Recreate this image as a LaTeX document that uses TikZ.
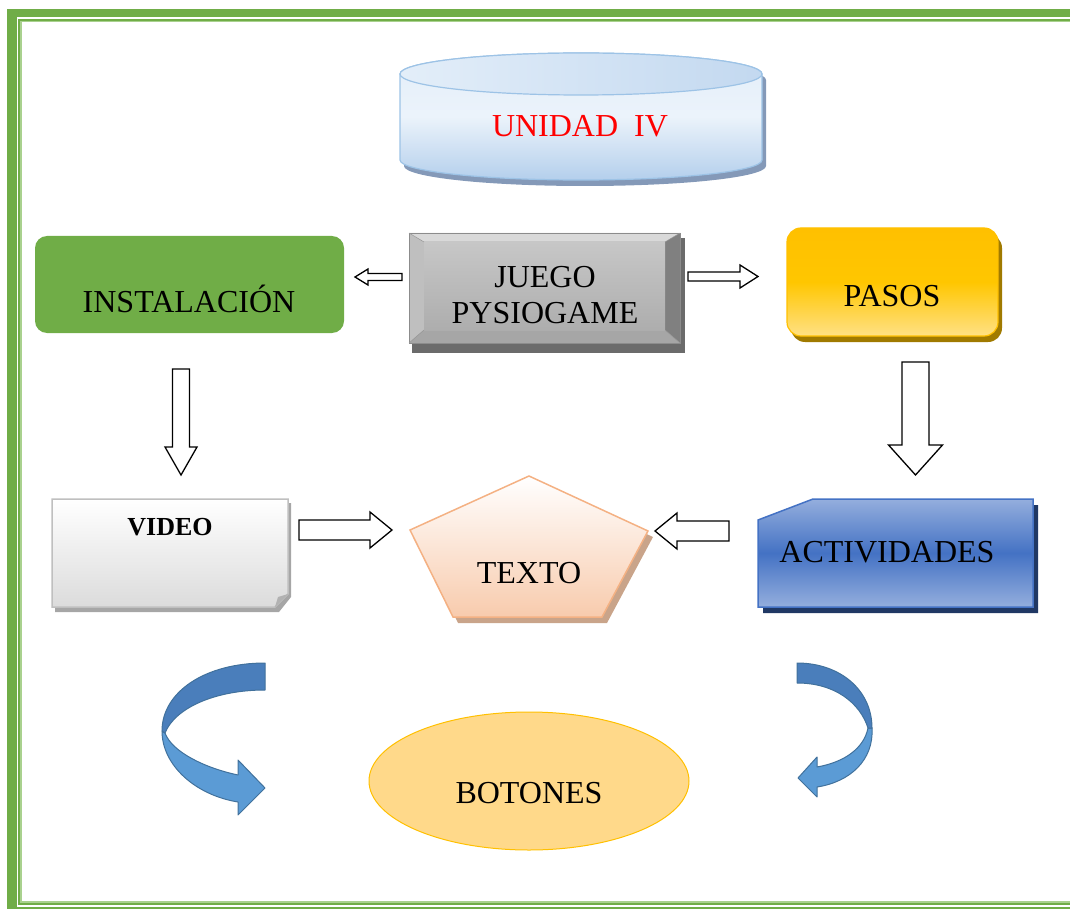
\documentclass[tikz,border=0pt]{standalone}
\usepackage{fontspec}
\setmainfont{Liberation Serif}
\usetikzlibrary{calc}
\definecolor{gr}{HTML}{70AD47}
\definecolor{grl}{HTML}{A9D18E}
\definecolor{cylA}{HTML}{E3EEF9}
\definecolor{cylB}{HTML}{B4CFEC}
\definecolor{cylE}{HTML}{9DC3E6}
\definecolor{cylS}{HTML}{8499B8}
\definecolor{gold}{HTML}{FFC000}
\definecolor{goldL}{HTML}{FFD966}
\definecolor{goldS}{HTML}{A07A00}
\definecolor{blu}{HTML}{4472C4}
\definecolor{bluL}{HTML}{94AEDD}
\definecolor{navy}{HTML}{203864}
\definecolor{peach}{HTML}{F8CBAD}
\definecolor{peachE}{HTML}{F4B183}
\definecolor{peachS}{HTML}{C9A48A}
\definecolor{bot}{HTML}{FFD98A}
\definecolor{rdark}{HTML}{4A7EBB}
\definecolor{rlight}{HTML}{5B9BD5}
\definecolor{redge}{HTML}{41719C}
\begin{document}
\begin{tikzpicture}[x=1pt,y=-1pt,
  txt/.style={font=\fontsize{32}{36}\selectfont, align=center, inner sep=0pt, text=black},
  barr/.style={draw=black, fill=white, line width=1.3pt, line join=miter},
  ribbon/.style={draw=redge, line width=1pt, line join=round}]
\useasboundingbox (0,0) rectangle (1070,909);

% ---- border ----
\fill[gr] (7,9) rectangle (1070,17);
\fill[gr] (7,9) rectangle (17,909);
\fill[gr] (7,906.5) rectangle (1070,909);
\fill[grl] (18,19) rectangle (1070,22.5);
\fill[grl] (18,19) rectangle (21.5,904.5);
\fill[grl] (18,901) rectangle (1070,904.5);
\fill[gr] (18,19) rectangle (1070,21);
\fill[gr] (18,19) rectangle (20,904.5);
\fill[gr] (18,902.5) rectangle (1070,904.5);

% ---- cylinder UNIDAD IV ----
\fill[cylS] (404,80) -- (404,166) arc[start angle=180, end angle=0, x radius=181, y radius=20] -- (766,80) arc[start angle=0, end angle=-180, x radius=181, y radius=21] -- cycle;
\path[draw=cylE, line width=1.2pt, top color=cylA, bottom color=cylB, middle color=cylA!70!white]
  (400,74) -- (400,160) arc[start angle=180, end angle=0, x radius=181, y radius=20] -- (762,74) arc[start angle=0, end angle=-180, x radius=181, y radius=21] -- cycle;
\path[draw=cylE, line width=1.2pt, left color=cylA, right color=cylB!80!white]
  (581,74) ellipse[x radius=181, y radius=21];
\node[txt, text=red] (unidad) at (580,126) {UNIDAD\ \ IV};

% ---- JUEGO PYSIOGAME bevel ----
\fill[black!58] (412,238) rectangle (685,353);
\fill[black!15] (409,233) -- (680,233) -- (665,242) -- (424,242) -- cycle;
\fill[black!25] (409,233) -- (424,242) -- (424,330) -- (409,343) -- cycle;
\fill[black!50] (680,233) -- (680,343) -- (665,330) -- (665,242) -- cycle;
\fill[black!35] (409,343) -- (680,343) -- (665,330) -- (424,330) -- cycle;
\path[top color=black!22, bottom color=black!32] (424,242) rectangle (665,330);
\draw[black!45, line width=0.8pt] (409,233) rectangle (680,343);
\draw[black!40, line width=0.5pt] (409,233) -- (424,242) (680,233) -- (665,242) (680,343) -- (665,330) (409,343) -- (424,330);
\node[txt] (juego) at (545,295) {JUEGO\\PYSIOGAME};

% ---- INSTALACION ----
\fill[gr, rounded corners=12] (35,236) rectangle (344,333);
\node[txt] (inst) at (189,299) {INSTALACIÓN};

% ---- PASOS ----
\fill[goldS, rounded corners=14] (791,234) rectangle (1002,342);
\path[draw=gold, line width=1.2pt, rounded corners=14, top color=gold, bottom color=goldL!80!white, middle color=gold!90!yellow]
  (787,228) rectangle (998,336);
\node[txt] (pasos) at (892,296) {PASOS};

% ---- VIDEO ----
\fill[black!35] (55,503) -- (291,503) -- (291,597) -- (279,612) -- (55,612) -- cycle;
\path[draw=black!25, line width=1.5pt, top color=white, bottom color=black!14]
  (52,499) -- (288,499) -- (288,594) -- (275,607) -- (52,607) -- cycle;
\fill[black!30] (288,594) -- (278,597) -- (275,607) -- cycle;
\node[font=\bfseries\fontsize{26}{30}\selectfont, inner sep=0pt] (video) at (170,527) {VIDEO};

% ---- ACTIVIDADES ----
\fill[navy] (763,526) -- (818,505) -- (1038,505) -- (1038,613) -- (763,613) -- cycle;
\path[draw=blu, line width=1.5pt, top color=bluL, bottom color=bluL, middle color=blu]
  (758,520) -- (813,499) -- (1033,499) -- (1033,607) -- (758,607) -- cycle;
\node[txt] (activ) at (887,552) {ACTIVIDADES};

% ---- TEXTO pentagon ----
\fill[peachS] (534,482) -- (653,537) -- (607,623) -- (458,623) -- (415,536) -- cycle;
\path[draw=peachE, line width=1.5pt, top color=white, bottom color=peach]
  (529,476) -- (648,531) -- (602,617) -- (453,617) -- (410,530) -- cycle;
\node[txt] (texto) at (529,573) {TEXTO};

% ---- BOTONES ----
\path[draw=gold, line width=1pt, fill=bot] (529,781) ellipse[x radius=160, y radius=69];
\node[txt] (botones) at (529,793) {BOTONES};

% ---- block arrows ----
% juego -> instalacion (left)
\draw[barr] (402,277-3.5) -- (368,277-3.5) -- (368,277-8) -- (355,277) -- (368,277+8) -- (368,277+3.5) -- (402,277+3.5) -- cycle;
% juego -> pasos (right)
\draw[barr] (688,276.5-4.5) -- (740,276.5-4.5) -- (740,276.5-11.5) -- (758,276.5) -- (740,276.5+11.5) -- (740,276.5+4.5) -- (688,276.5+4.5) -- cycle;
% instalacion -> video (down)
\draw[barr] (181-8.5,369) -- (181-8.5,447) -- (181-16,447) -- (181,475) -- (181+16,447) -- (181+8.5,447) -- (181+8.5,369) -- cycle;
% pasos -> actividades (down)
\draw[barr] (915.5-13.5,362) -- (915.5-13.5,445) -- (915.5-27,445) -- (915.5,475) -- (915.5+27,445) -- (915.5+13.5,445) -- (915.5+13.5,362) -- cycle;
% video -> texto (right)
\draw[barr] (299,530-10) -- (370,530-10) -- (370,530-18) -- (392,530) -- (370,530+18) -- (370,530+10) -- (299,530+10) -- cycle;
% actividades -> texto (left)
\draw[barr] (729,531-10) -- (677,531-10) -- (677,531-18) -- (655,531) -- (677,531+18) -- (677,531+10) -- (729,531+10) -- cycle;

% ---- curved arrows ----
% left
\draw[ribbon, fill=rlight] (162,731) .. controls (162,765) and (195,795) .. (238,802) -- (238,815) -- (265,788) -- (238,760) -- (238,775) .. controls (205,768) and (172,752) .. (165,733) -- cycle;
\draw[ribbon, fill=rdark] (265,663) .. controls (205,663) and (162,692) .. (162,731) -- (165,733) .. controls (175,708) and (215,690) .. (265,690) -- cycle;
% right
\draw[ribbon, fill=rlight] (872,728) .. controls (874,760) and (850,782) .. (817,787) -- (817,797) -- (798,778) -- (817,757) -- (817,767) .. controls (845,762) and (864,748) .. (868,728) -- cycle;
\draw[ribbon, fill=rdark] (797,663) .. controls (840,663) and (872,690) .. (872,728) -- (868,728) .. controls (860,703) and (835,683) .. (797,683) -- cycle;
\end{tikzpicture}
\end{document}
